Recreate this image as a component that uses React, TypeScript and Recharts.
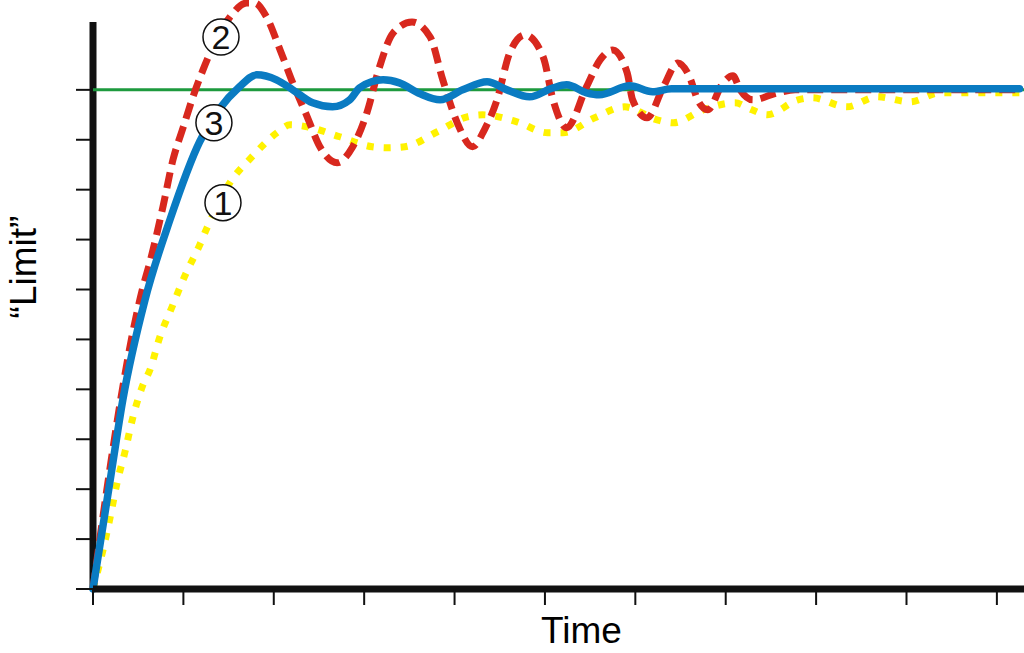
import { LineChart, Line, XAxis, YAxis, ReferenceLine, ReferenceDot, Label } from 'recharts';

// curve 1: slow, overdamped-looking yellow dotted response
const curve1 = [
  [0, 0], [0.11, 0.78], [0.19, 1.44], [0.265, 2.12], [0.354, 2.75], [0.44, 3.43],
  [0.553, 4.09], [0.63, 4.39], [0.74, 5.05], [0.874, 5.65], [1.02, 6.29], [1.18, 6.89],
  [1.26, 7.23], [1.515, 8.14], [1.76, 8.66], [2.035, 9.14], [2.18, 9.3], [2.37, 9.26],
  [2.73, 9.06], [3.09, 8.86], [3.26, 8.84], [3.45, 8.86], [3.81, 9.16], [4.14, 9.46],
  [4.31, 9.5], [4.69, 9.36], [5.03, 9.14], [5.2, 9.14], [5.55, 9.44], [5.88, 9.66],
  [6.24, 9.4], [6.42, 9.34], [6.75, 9.6], [7.1, 9.74], [7.29, 9.6], [7.46, 9.5],
  [7.8, 9.8], [7.96, 9.84], [8.34, 9.66], [8.67, 9.86], [9.04, 9.76], [9.37, 9.94],
  [10.25, 9.94],
].map(([t, v]) => ({ t, v }));

// curve 2: strongly oscillating red dashed response
const curve2 = [
  [0, 0], [0.17, 2.2], [0.33, 4.05], [0.43, 5.05], [0.55, 6.03], [0.63, 6.55],
  [0.774, 7.66], [0.885, 8.6], [1.0, 9.26], [1.106, 9.86], [1.217, 10.4], [1.515, 11.46],
  [1.7, 11.74], [1.79, 11.74], [1.92, 11.46], [2.07, 10.8], [2.21, 10.14], [2.37, 9.46],
  [2.51, 8.86], [2.7, 8.54], [2.87, 8.85], [3.03, 9.54], [3.17, 10.46], [3.32, 11.14],
  [3.53, 11.36], [3.73, 11.06], [3.87, 10.2], [4.03, 9.34], [4.2, 8.86], [4.33, 9.2],
  [4.47, 9.8], [4.61, 10.74], [4.78, 11.1], [4.98, 10.66], [5.09, 9.8], [5.24, 9.24],
  [5.46, 10.06], [5.61, 10.6], [5.75, 10.8], [5.91, 10.34], [5.97, 9.8], [6.13, 9.44],
  [6.31, 10.06], [6.47, 10.54], [6.6, 10.26], [6.69, 9.8], [6.8, 9.6], [6.97, 10.14],
  [7.08, 10.28], [7.16, 10.0], [7.3, 9.8], [7.57, 9.94], [7.77, 10], [10.25, 10],
].map(([t, v]) => ({ t, v }));

// curve 3: well tuned blue solid response
const curve3 = [
  [0, 0], [0.19, 2.18], [0.33, 3.79], [0.575, 5.79], [0.85, 7.39], [1.18, 8.96],
  [1.4, 9.62], [1.62, 10.06], [1.81, 10.3], [2.03, 10.2], [2.21, 10.0], [2.43, 9.74],
  [2.65, 9.66], [2.84, 9.8], [2.95, 10.04], [3.21, 10.2], [3.39, 10.14], [3.62, 9.92],
  [3.84, 9.8], [4.09, 10.0], [4.36, 10.16], [4.58, 10.0], [4.83, 9.86], [5.09, 10.04],
  [5.24, 10.1], [5.46, 9.94], [5.6, 9.9], [5.94, 10.08], [6.19, 9.96], [6.4, 10.02],
  [10.25, 10.02],
].map(([t, v]) => ({ t, v }));

const limit = 10;
const xTicks = [0, 1, 2, 3, 4, 5, 6, 7, 8, 9, 10];
const yTicks = [0, 1, 2, 3, 4, 5, 6, 7, 8, 9, 10];

const markers = [
  { id: '2', t: 1.416, v: 11.06 },
  { id: '3', t: 1.338, v: 9.34 },
  { id: '1', t: 1.438, v: 7.74 },
];

const FONT = '"Liberation Sans", Arial, sans-serif';

function TimeTitle(props: any) {
  const vb = props.viewBox;
  return (
    <text x={vb.x + 448} y={vb.y + 54} fontSize={37} fontFamily={FONT} fill="#000">
      Time
    </text>
  );
}

function LimitTitle(props: any) {
  const vb = props.viewBox;
  const x = vb.x + 3;
  const y = 267;
  return (
    <text x={x} y={y} transform={`rotate(-90 ${x} ${y})`} textAnchor="middle"
      fontSize={37} fontFamily={FONT} fill="#000">
      {'\u201CLimit\u201D'}
    </text>
  );
}

export default function App() {
  return (
    <div style={{ position: 'absolute', left: 0, top: 0, background: '#fff' }}>
      <LineChart width={1024} height={653} margin={{ top: 0, right: 0, left: 33, bottom: 0 }}>
        <XAxis
          type="number"
          dataKey="t"
          domain={[0, 10.3]}
          ticks={xTicks}
          tickFormatter={() => ''}
          axisLine={{ stroke: '#111', strokeWidth: 7 }}
          tickLine={{ stroke: '#111', strokeWidth: 2 }}
          tickSize={16}
          height={64}
        >
          <Label content={TimeTitle} />
        </XAxis>
        <YAxis
          type="number"
          domain={[0, 11.8]}
          ticks={yTicks}
          tickFormatter={() => ''}
          axisLine={false}
          tickLine={{ stroke: '#111', strokeWidth: 2 }}
          tickSize={17}
          width={60}
        >
          <Label content={LimitTitle} />
        </YAxis>
        <ReferenceLine segment={[{ x: 0, y: 0 }, { x: 0, y: 11.36 }]} stroke="#111" strokeWidth={7} />
        <ReferenceLine y={limit} stroke="#1d9a3e" strokeWidth={3} />
        <Line data={curve1} dataKey="v" type="monotone" stroke="#fff200" strokeWidth={7}
          strokeDasharray="7 10" dot={false} activeDot={false} isAnimationActive={false} />
        <Line data={curve2} dataKey="v" type="monotone" stroke="#d8281e" strokeWidth={7}
          strokeDasharray="16 8" dot={false} activeDot={false} isAnimationActive={false} />
        <Line data={curve3} dataKey="v" type="monotone" stroke="#0a7bc2" strokeWidth={7.5}
          strokeLinecap="round" dot={false} activeDot={false} isAnimationActive={false} />
        {markers.map((m) => (
          <ReferenceDot key={m.id} x={m.t} y={m.v} r={18} fill="#fff" stroke="#111" strokeWidth={1.5}
            label={{ value: m.id, position: 'center', fontSize: 34, fill: '#111', fontFamily: FONT }} />
        ))}
      </LineChart>
    </div>
  );
}
